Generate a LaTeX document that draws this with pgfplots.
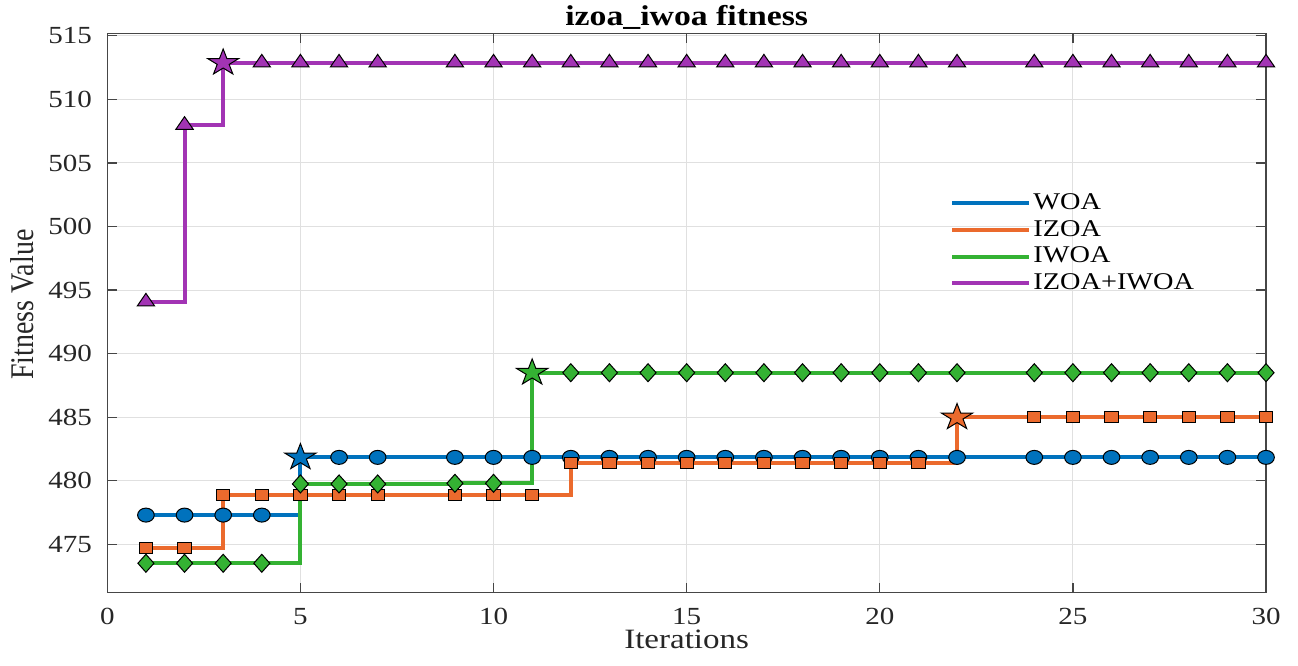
\documentclass[border=0pt]{standalone}
\usepackage{fontspec}
\setmainfont{Liberation Serif}
\usepackage{graphicx}
\usepackage{pgfplots}
\usepackage{pgfplotstable}
\pgfplotsset{compat=1.18}

\definecolor{cwoa}{RGB}{0,114,189}
\definecolor{cizoa}{RGB}{235,106,45}
\definecolor{ciwoa}{RGB}{52,178,51}
\definecolor{cboth}{RGB}{162,52,180}
\definecolor{cgrid}{RGB}{224,224,224}
\definecolor{caxis}{RGB}{70,70,70}

\pgfdeclareplotmark{pentastar}{%
  \pgfpathmoveto{\pgfpointpolar{90}{\pgfplotmarksize}}%
  \pgfpathlineto{\pgfpointpolar{126}{0.382\pgfplotmarksize}}%
  \pgfpathlineto{\pgfpointpolar{162}{\pgfplotmarksize}}%
  \pgfpathlineto{\pgfpointpolar{198}{0.382\pgfplotmarksize}}%
  \pgfpathlineto{\pgfpointpolar{234}{\pgfplotmarksize}}%
  \pgfpathlineto{\pgfpointpolar{270}{0.382\pgfplotmarksize}}%
  \pgfpathlineto{\pgfpointpolar{306}{\pgfplotmarksize}}%
  \pgfpathlineto{\pgfpointpolar{342}{0.382\pgfplotmarksize}}%
  \pgfpathlineto{\pgfpointpolar{18}{\pgfplotmarksize}}%
  \pgfpathlineto{\pgfpointpolar{54}{0.382\pgfplotmarksize}}%
  \pgfpathclose
  \pgfusepathqfillstroke}

\pgfplotstableread{
x y
1 477.3
2 477.3
3 477.3
4 477.3
5 481.84
6 481.84
7 481.84
8 481.84
9 481.84
10 481.84
11 481.84
12 481.84
13 481.84
14 481.84
15 481.84
16 481.84
17 481.84
18 481.84
19 481.84
20 481.84
21 481.84
22 481.84
23 481.84
24 481.84
25 481.84
26 481.84
27 481.84
28 481.84
29 481.84
30 481.84
}\woa

\pgfplotstableread{
x y
1 474.69
2 474.69
3 478.85
4 478.85
5 478.85
6 478.85
7 478.85
8 478.85
9 478.85
10 478.85
11 478.85
12 481.37
13 481.37
14 481.37
15 481.37
16 481.37
17 481.37
18 481.37
19 481.37
20 481.37
21 481.37
22 484.99
23 484.99
24 484.99
25 484.99
26 484.99
27 484.99
28 484.99
29 484.99
30 484.99
}\izoa

\pgfplotstableread{
x y
1 473.51
2 473.51
3 473.51
4 473.51
5 479.75
6 479.75
7 479.75
8 479.75
9 479.8
10 479.8
11 488.5
12 488.5
13 488.5
14 488.5
15 488.5
16 488.5
17 488.5
18 488.5
19 488.5
20 488.5
21 488.5
22 488.5
23 488.5
24 488.5
25 488.5
26 488.5
27 488.5
28 488.5
29 488.5
30 488.5
}\iwoa

\pgfplotstableread{
x y
1 494.08
2 507.98
3 512.88
4 512.88
5 512.88
6 512.88
7 512.88
8 512.88
9 512.88
10 512.88
11 512.88
12 512.88
13 512.88
14 512.88
15 512.88
16 512.88
17 512.88
18 512.88
19 512.88
20 512.88
21 512.88
22 512.88
23 512.88
24 512.88
25 512.88
26 512.88
27 512.88
28 512.88
29 512.88
30 512.88
}\both

\begin{document}
\begin{tikzpicture}
\begin{axis}[
  scale only axis,
  width=579.4pt, height=279.7pt,
  xmin=0, xmax=30, ymin=471.2, ymax=515.2,
  xtick={0,5,10,15,20,25,30},
  xticklabels={0,5,10,15,20,25,30},
  ytick={475,480,485,490,495,500,505,510,515},
  yticklabels={475,480,485,490,495,500,505,510,515},
  tick align=inside, tick pos=both,
  major tick length=5pt,
  grid=major,
  major grid style={cgrid, line width=0.5pt},
  axis line style={caxis, line width=0.6pt},
  every tick/.style={caxis, line width=0.6pt},
  tick label style={font=\rmfamily\fontsize{12.3}{14}\selectfont, xscale=1.18, text=black!85},
  xticklabel style={inner sep=0.5pt, yshift=-7.1pt},
  yticklabel style={xshift=-3pt},
  xlabel={Iterations},
  ylabel={Fitness Value},
  xlabel style={font=\fontsize{14}{16}\selectfont, xscale=1.18, inner sep=0pt, at={(axis description cs:0.5,-0.099)}, anchor=base, text=black!85},
  ylabel style={font=\fontsize{14}{16}\selectfont, at={(axis description cs:-0.0636,0.515)}, anchor=base, yscale=1.18, text=black!85},
  title={izoa\_iwoa fitness},
  every axis title shift=0pt,
  title style={font=\bfseries\fontsize{14.3}{16}\selectfont, xscale=1.18, at={(axis description cs:0.5,1.0138)}, anchor=base},
  clip=false,
  legend cell align=left,
  legend image code/.code={\draw[#1, line width=2pt] (0pt,0pt) -- (38.5pt,0pt);},
  legend style={at={(0.7273,0.7199)}, anchor=north west, draw=none, fill=none, inner sep=0pt, row sep=0.35pt,
    font=\fontsize{12}{13}\selectfont,
    nodes={inner sep=1pt, text height=8.6pt, text depth=2.4pt},
    /tikz/every even column/.append style={column sep=3pt}},
]
\coordinate (bbl) at (rel axis cs:-0.0926,-0.131);
\coordinate (btr) at (rel axis cs:1.0276,1.0595);

% WOA
\addplot[cwoa, line width=2pt, const plot, no marks] table {\woa};
\addplot[forget plot, only marks, mark=*, mark size=3.5pt,
  mark options={fill=cwoa, draw=black, line width=0.5pt, xscale=1.19},
  mark indices={1,2,3,4,6,7,9,10,11,12,13,14,15,16,17,18,19,20,21,22,24,25,26,27,28,29,30}] table {\woa};
\addplot[forget plot, only marks, mark=pentastar, mark size=6.9pt,
  mark options={fill=cwoa, draw=black, line width=0.5pt, xscale=1.19},
  mark indices={5}] table {\woa};

% IZOA
\addplot[cizoa, line width=2pt, const plot, no marks] table {\izoa};
\addplot[forget plot, only marks, mark=square*, mark size=2.8pt,
  mark options={fill=cizoa, draw=black, line width=0.5pt, xscale=1.19},
  mark indices={1,2,3,4,5,6,7,9,10,11,12,13,14,15,16,17,18,19,20,21,24,25,26,27,28,29,30}] table {\izoa};
\addplot[forget plot, only marks, mark=pentastar, mark size=6.9pt,
  mark options={fill=cizoa, draw=black, line width=0.5pt, xscale=1.19},
  mark indices={22}] table {\izoa};

% IWOA
\addplot[ciwoa, line width=2pt, const plot, no marks] table {\iwoa};
\addplot[forget plot, only marks, mark=diamond*, mark size=4.5pt,
  mark options={fill=ciwoa, draw=black, line width=0.5pt, xscale=1.19},
  mark indices={1,2,3,4,5,6,7,9,10,12,13,14,15,16,17,18,19,20,21,22,24,25,26,27,28,29,30}] table {\iwoa};
\addplot[forget plot, only marks, mark=pentastar, mark size=6.9pt,
  mark options={fill=ciwoa, draw=black, line width=0.5pt, xscale=1.19},
  mark indices={11}] table {\iwoa};

% IZOA+IWOA
\addplot[cboth, line width=2pt, const plot, no marks] table {\both};
\addplot[forget plot, only marks, mark=triangle*, mark size=4.2pt,
  mark options={fill=cboth, draw=black, line width=0.5pt, xscale=1.19},
  mark indices={1,2,4,5,6,7,9,10,11,12,13,14,15,16,17,18,19,20,21,22,24,25,26,27,28,29,30}] table {\both};
\addplot[forget plot, only marks, mark=pentastar, mark size=6.9pt,
  mark options={fill=cboth, draw=black, line width=0.5pt, xscale=1.19},
  mark indices={3}] table {\both};

\legend{\scalebox{1.18}[1]{WOA},\scalebox{1.18}[1]{IZOA},\scalebox{1.18}[1]{IWOA},\scalebox{1.18}[1]{IZOA+IWOA}}
\end{axis}
\pgfresetboundingbox
\useasboundingbox (bbl) rectangle (btr);
\end{tikzpicture}
\end{document}
